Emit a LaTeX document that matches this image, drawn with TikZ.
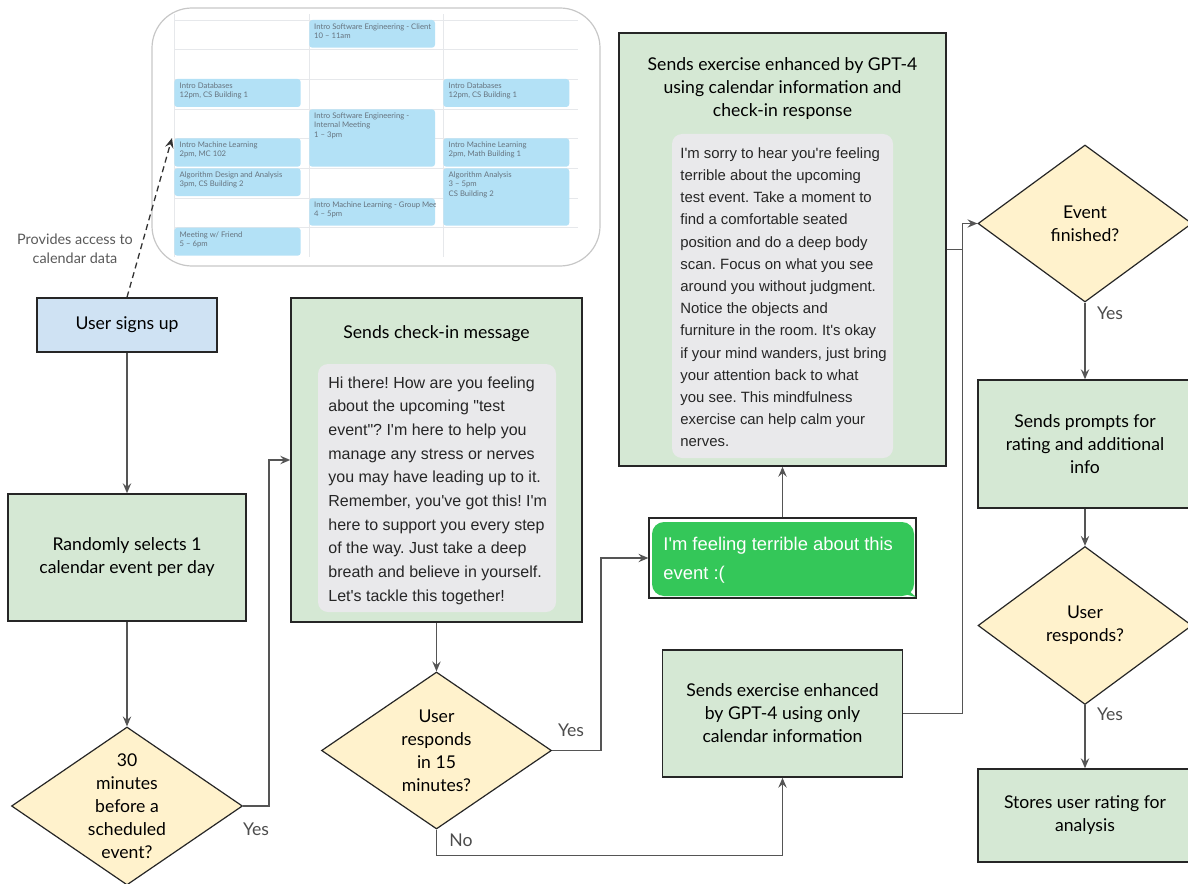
\documentclass[tikz,border=0pt]{standalone}
\usepackage{fontspec}
\setmainfont{Lato}
\newfontfamily\chatfont[Ligatures=TeXOff]{Liberation Sans}
\usetikzlibrary{arrows.meta,shapes.geometric}
\definecolor{stepgreen}{HTML}{D5E8D4}
\definecolor{startblue}{HTML}{CFE2F3}
\definecolor{askyellow}{HTML}{FFF2CC}
\definecolor{chatgrey}{HTML}{E9E9EB}
\definecolor{chatgreen}{HTML}{34C759}
\definecolor{calblue}{HTML}{B3E1F6}
\definecolor{calink}{HTML}{66737E}
\definecolor{calgrid}{HTML}{E6E8EB}
\definecolor{wire}{HTML}{555555}
\frenchspacing

\begin{document}
\begin{tikzpicture}[x=0.5pt, y=-0.5pt,
  every node/.style={font=\fontsize{8.8}{11.5}\selectfont},
  stepbox/.style={draw=black!85, line width=0.75pt, fill=stepgreen, inner sep=0pt},
  startbox/.style={stepbox, fill=startblue},
  ask/.style={diamond, draw=black!85, line width=0.6pt, fill=askyellow, inner sep=0pt},
  label/.style={align=center, inner sep=0pt},
  bubble/.style={fill=chatgrey, rounded corners=5pt},
  chat/.style={align=left, anchor=north west, inner sep=0pt, text=black!85,
    font=\chatfont\fontsize{8}{11.85}\selectfont},
  flow/.style={draw=wire, line width=0.65pt, -{Stealth[length=5pt,width=4.2pt,inset=1.8pt]}},
  wireline/.style={draw=wire, line width=0.65pt},
  answer/.style={text=black!70, inner sep=0pt},
  calevent/.style={fill=calblue, rounded corners=1.5pt},
  caltext/.style={anchor=north west, inner sep=0pt, align=left, text=calink,
    font=\fontsize{3.85}{4.65}\selectfont}
]
\clip (0,0) rectangle (1188,883);

%calendar screenshot
\draw[black!22, line width=0.6pt, rounded corners=20pt] (152,8) rectangle (600,266);
\foreach \y in {20,49.3,79,109.3,138.3,168.3,198.3,227.7}
  \draw[calgrid, line width=0.4pt] (174.3,\y) -- (578,\y);
\foreach \x in {174.3,309.3,443.3}
  \draw[calgrid, line width=0.4pt] (\x,14) -- (\x,257);
\fill[calevent] (174.3,79) rectangle (300.7,107);
\node[caltext] (dbA) at (179.3,82.5) {Intro Databases\\12pm, CS Building 1};
\fill[calevent] (443.3,79) rectangle (569.3,107);
\node[caltext] (dbB) at (448.3,82.5) {Intro Databases\\12pm, CS Building 1};
\fill[calevent] (309.3,109.3) rectangle (435,166.7);
\node[caltext] (seB) at (313.8,112.5) {Intro Software Engineering -\\Internal Meeting\\1 -- 3pm};
\fill[calevent] (174.3,138.3) rectangle (300.7,166.7);
\node[caltext] (mlA) at (179.3,141.5) {Intro Machine Learning\\2pm, MC 102};
\fill[calevent] (443.3,138.3) rectangle (569.3,166.7);
\node[caltext] (mlB) at (448.3,141.5) {Intro Machine Learning\\2pm, Math Building 1};
\fill[calevent] (174.3,168.3) rectangle (300.7,196);
\node[caltext] (algA) at (179.3,171.5) {Algorithm Design and Analysis\\3pm, CS Building 2};
\fill[calevent] (443.3,168.3) rectangle (569.3,225.7);
\node[caltext] (algB) at (448.3,171.5) {Algorithm Analysis\\3 -- 5pm\\CS Building 2};
\fill[calevent] (174.3,227.7) rectangle (300.7,255.7);
\node[caltext] (friend) at (179.3,231) {Meeting w/ Friend\\5 -- 6pm};
\begin{scope}
  \clip (309.3,14) rectangle (435,257);
  \fill[calevent] (309.3,20) rectangle (435,47.7);
  \node[caltext] (seA) at (313.8,23.5) {Intro Software Engineering - Client\\10 -- 11am};
  \fill[calevent] (309.3,198.3) rectangle (435,225.7);
  \node[caltext] (mlC) at (313.8,201.5) {Intro Machine Learning - Group Meeting\\4 -- 5pm};
\end{scope}
\coordinate (calhook) at (172,138);

%left column
\node[startbox, minimum width=90pt, minimum height=27pt] (signup) at (127,325) {};
\node[label] (signupT) at (signup) {User signs up};
\node[label, text=black!65, font=\fontsize{7.2}{9.5}\selectfont] (access) at (75,249) {Provides access to\\calendar data};
\node[stepbox, minimum width=119pt, minimum height=63.5pt] (pick) at (127,557.5) {};
\node[label] (pickT) at (pick) {Randomly selects 1\\calendar event per day};
\node[ask, minimum width=115.5pt, minimum height=79pt] (soon) at (127,806) {};
\node[label] (soonT) at (soon) {30\\minutes\\before a\\scheduled\\event?};

%check-in
\node[stepbox, minimum width=145.5pt, minimum height=162pt] (checkin) at (436.5,460) {};
\node[label] (checkinT) at (436.5,334) {Sends check-in message};
\fill[bubble] (318,364) rectangle (556,612);
\node[chat] (checkinM) at (328,376) {Hi there! How are you feeling\\about the upcoming "test\\event"? I'm here to help you\\manage any stress or nerves\\you may have leading up to it.\\Remember, you've got this! I'm\\here to support you every step\\of the way. Just take a deep\\breath and believe in yourself.\\Let's tackle this together!};
\node[ask, minimum width=115pt, minimum height=78.5pt] (reply) at (436.5,750.5) {};
\node[label] (replyT) at (reply) {User\\responds\\in 15\\minutes?};

%user answer
\node[draw=black!85, line width=0.6pt, fill=white, minimum width=133.5pt, minimum height=40pt, inner sep=0pt] (answerbox) at (782.5,558) {};
\fill[chatgreen, rounded corners=6pt] (652,522) rectangle (914,596);
\fill[chatgreen] (900,583) -- (916,597) -- (904,594) -- cycle;
\node[chat, text=white, font=\chatfont\fontsize{9.2}{14.5}\selectfont] (answerM) at (663,537) {I'm feeling terrible about this\\event :(};

%exercises
\node[stepbox, minimum width=163.5pt, minimum height=216.5pt] (full) at (782.5,249.5) {};
\node[label] (fullT) at (782.5,89) {Sends exercise enhanced by GPT-4\\using calendar information and\\check-in response};
\fill[bubble] (672,134) rectangle (893,458);
\node[chat, font=\chatfont\fontsize{7.45}{11.1}\selectfont] (fullM) at (680,147) {I'm sorry to hear you're feeling\\terrible about the upcoming\\test event. Take a moment to\\find a comfortable seated\\position and do a deep body\\scan. Focus on what you see\\around you without judgment.\\Notice the objects and\\furniture in the room. It's okay\\if your mind wanders, just bring\\your attention back to what\\you see. This mindfulness\\exercise can help calm your\\nerves.};
\node[stepbox, minimum width=120pt, minimum height=63.5pt] (basic) at (782.5,713.5) {};
\node[label] (basicT) at (basic) {Sends exercise enhanced\\by GPT-4 using only\\calendar information};

%right column
\node[ask, minimum width=107pt, minimum height=78.5pt] (done) at (1085,223.5) {};
\node[label] (doneT) at (done) {Event\\finished?};
\node[stepbox, minimum width=107pt, minimum height=64pt] (rate) at (1085,444) {};
\node[label] (rateT) at (rate) {Sends prompts for\\rating and additional\\info};
\node[ask, minimum width=107pt, minimum height=79pt] (rated) at (1085,625.5) {};
\node[label] (ratedT) at (rated) {User\\responds?};
\node[stepbox, minimum width=107pt, minimum height=46.5pt] (store) at (1085,815.5) {};
\node[label] (storeT) at (store) {Stores user rating for\\analysis};

%connectors
\draw[flow, draw=black!80, dash pattern=on 3pt off 2pt] (signup.north) -- (calhook);
\draw[flow] (signup) -- (pick);
\draw[flow] (pick) -- (soon);
\draw[flow] (soon.east) -- ++(26,0) |- (checkin.west);
\draw[flow] (checkin) -- (reply);
\draw[flow] (reply.east) -- ++(49,0) |- (answerbox.west);
\draw[flow] (reply.south) -- ++(0,26) -| (basic.south);
\draw[flow] (answerbox) -- (full);
\draw[wireline] (full.east) -- ++(16,0);
\draw[flow] (basic.east) -- ++(59,0) |- (done.west);
\draw[flow] (done) -- (rate);
\draw[flow] (rate) -- (rated);
\draw[flow] (rated) -- (store);

%answers
\node[answer] (yesA) at (256,829) {Yes};
\node[answer] (yesB) at (571,730) {Yes};
\node[answer] (noB) at (461,840) {No};
\node[answer] (yesC) at (1110,313) {Yes};
\node[answer] (yesD) at (1110,714) {Yes};
\end{tikzpicture}
\end{document}
